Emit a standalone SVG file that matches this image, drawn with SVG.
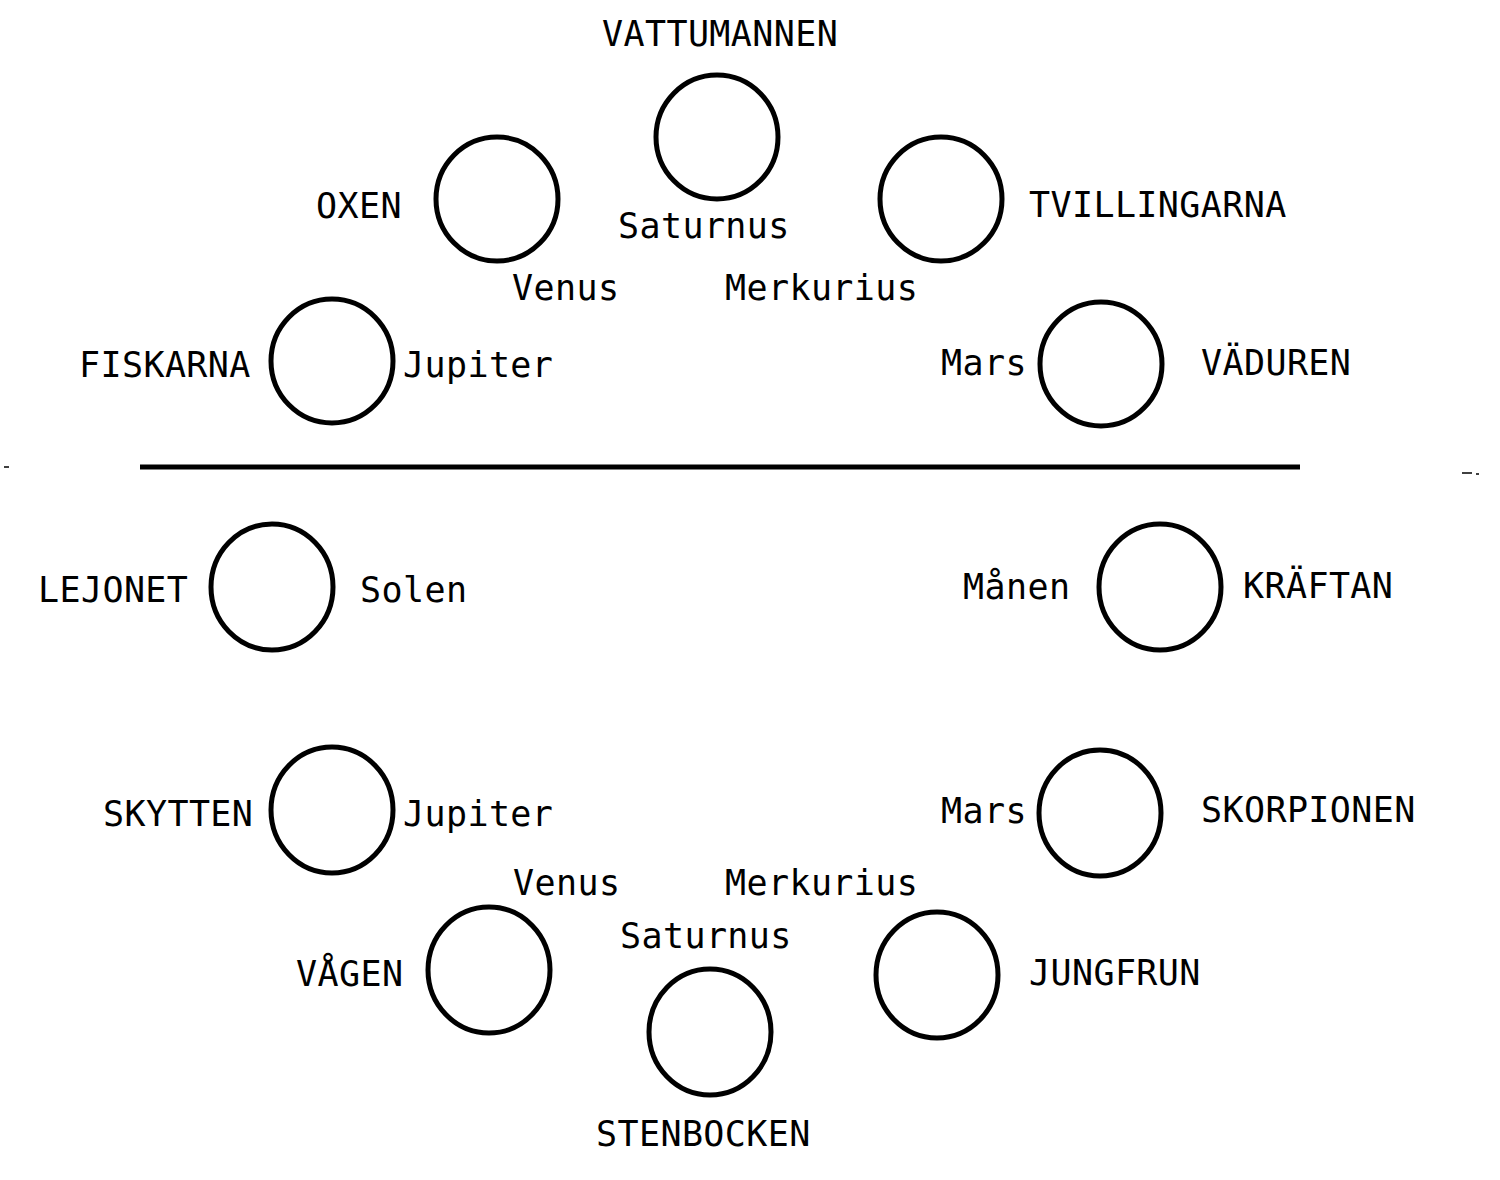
<svg xmlns="http://www.w3.org/2000/svg" width="1500" height="1180" viewBox="0 0 1500 1180">
<style>
.c{fill:none;stroke:#000;stroke-width:5}
.t{font-family:"DejaVu Sans Mono","Liberation Mono",monospace;font-size:35px;letter-spacing:0.4px;fill:#000}
</style>
<rect width="1500" height="1180" fill="#fff"/>
<g id="divider">
<line x1="140" y1="467" x2="1300" y2="467" stroke="#000" stroke-width="5"/>
<line x1="4" y1="467" x2="9" y2="467" stroke="#000" stroke-width="1.5"/>
<line x1="1462" y1="473" x2="1472" y2="473" stroke="#000" stroke-width="1.5"/>
<line x1="1476" y1="474" x2="1479" y2="474" stroke="#000" stroke-width="1.5"/>
</g>
<g id="connectors"></g>
<g id="vattumannen">
<ellipse class="c" cx="717" cy="137" rx="61" ry="62"/>
<text class="t" x="602" y="46">VATTUMANNEN</text>
<text class="t" x="618" y="238">Saturnus</text>
</g>
<g id="oxen">
<ellipse class="c" cx="497" cy="199" rx="61" ry="62"/>
<text class="t" x="316" y="218">OXEN</text>
<text class="t" x="512" y="300">Venus</text>
</g>
<g id="tvillingarna">
<ellipse class="c" cx="941" cy="199" rx="61" ry="62"/>
<text class="t" x="1029" y="217">TVILLINGARNA</text>
<text class="t" x="725" y="300">Merkurius</text>
</g>
<g id="fiskarna">
<ellipse class="c" cx="332" cy="361" rx="61" ry="62"/>
<text class="t" x="79" y="377">FISKARNA</text>
<text class="t" x="403" y="377">Jupiter</text>
</g>
<g id="vaduren">
<ellipse class="c" cx="1101" cy="364" rx="61" ry="62"/>
<text class="t" x="1201" y="375">VÄDUREN</text>
<text class="t" x="941" y="375">Mars</text>
</g>
<g id="lejonet">
<ellipse class="c" cx="272" cy="587" rx="61" ry="63"/>
<text class="t" x="38" y="602">LEJONET</text>
<text class="t" x="360" y="602">Solen</text>
</g>
<g id="kraftan">
<ellipse class="c" cx="1160" cy="587" rx="61" ry="63"/>
<text class="t" x="1243" y="598">KRÄFTAN</text>
<text class="t" x="963" y="599">Månen</text>
</g>
<g id="skytten">
<ellipse class="c" cx="332" cy="810" rx="61" ry="63"/>
<text class="t" x="103" y="826">SKYTTEN</text>
<text class="t" x="403" y="826">Jupiter</text>
</g>
<g id="skorpionen">
<ellipse class="c" cx="1100" cy="813" rx="61" ry="63"/>
<text class="t" x="1201" y="822">SKORPIONEN</text>
<text class="t" x="941" y="823">Mars</text>
</g>
<g id="vagen">
<ellipse class="c" cx="489" cy="970" rx="61" ry="63"/>
<text class="t" x="296" y="986">VÅGEN</text>
<text class="t" x="513" y="895">Venus</text>
</g>
<g id="jungfrun">
<ellipse class="c" cx="937" cy="975" rx="61" ry="63"/>
<text class="t" x="1029" y="985">JUNGFRUN</text>
<text class="t" x="725" y="895">Merkurius</text>
</g>
<g id="stenbocken">
<ellipse class="c" cx="710" cy="1032" rx="61" ry="63"/>
<text class="t" x="596" y="1146">STENBOCKEN</text>
<text class="t" x="620" y="948">Saturnus</text>
</g>
</svg>
